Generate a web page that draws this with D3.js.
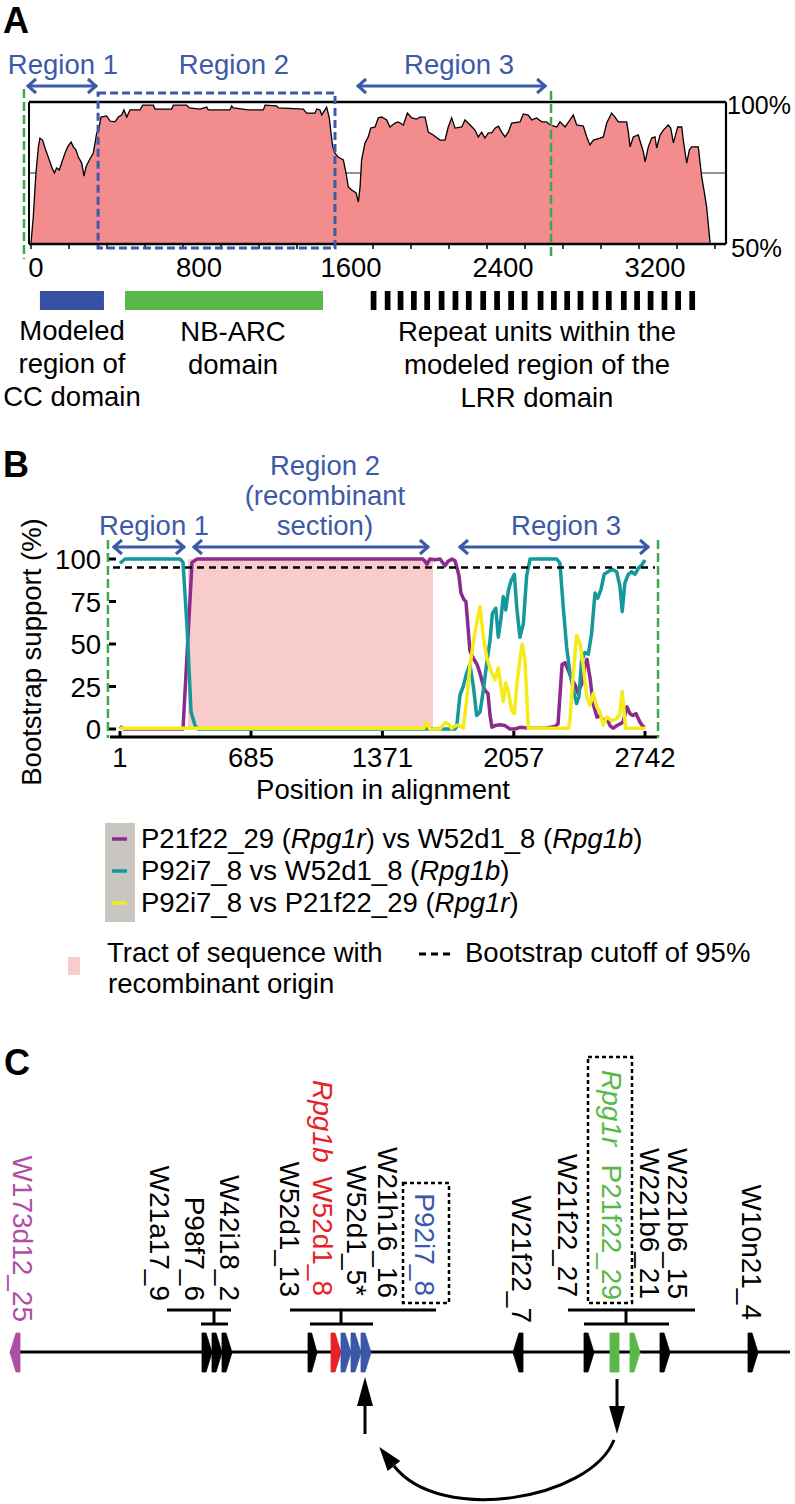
<!DOCTYPE html>
<html><head><meta charset="utf-8">
<script src="https://cdn.jsdelivr.net/npm/d3@7"></script>
<style>
body{margin:0;background:#fff}
svg{display:block}
text{font-family:"Liberation Sans",Arial,Helvetica,sans-serif;fill:#000}
</style>
</head><body>
<svg id="c" width="795" height="1504"></svg>
<script>
// ---------------- DATA ----------------
// Panel A: identity profile (alignment position, % identity)
const identityProfile = [[0,50.4],[12,59.5],[26,75],[39,84.2],[47,87.3],[61,86.6],[74,83.8],[91,80.6],[109,77.1],[123,75],[135,76.8],[149,76.1],[161,78.5],[179,82],[193,84.2],[211,85.9],[223,84.2],[237,83.1],[249,80.6],[267,78.5],[279,73.9],[289,77.1],[307,79.6],[328,82],[346,89.1],[356,90.1],[368,94.7],[398,95.1],[416,93.3],[442,93],[460,94.7],[477,95.4],[489,97.2],[504,94.7],[521,97.2],[574,97.2],[588,98.9],[644,98.9],[653,97.5],[740,97.5],[749,98.9],[819,98.9],[833,97.9],[889,97.5],[925,98.2],[933,97.2],[1047,97.2],[1056,98.6],[1065,97.9],[1144,97.2],[1223,97.2],[1232,98.9],[1293,98.6],[1302,97.9],[1433,97.5],[1451,96.1],[1495,96.1],[1504,97.5],[1521,97.2],[1530,95.4],[1547,97.2],[1556,98.2],[1570,94.4],[1579,89.1],[1588,84.2],[1600,82],[1617,80.6],[1644,79.6],[1658,75],[1670,70.1],[1688,69],[1711,68],[1723,64.8],[1732,70.1],[1740,79.6],[1758,85.6],[1775,87.7],[1788,90.8],[1811,91.2],[1828,94.4],[1846,94.7],[1872,93.7],[1889,91.2],[1916,92.6],[1933,93],[1960,91.9],[1981,96.1],[2004,94.4],[2030,94],[2047,94.7],[2074,94.7],[2091,89.4],[2117,88.4],[2153,86.6],[2179,86.6],[2196,91.2],[2214,94.4],[2232,90.8],[2267,91.2],[2284,93.7],[2311,91.9],[2337,90.1],[2354,87.7],[2372,89.4],[2389,87.3],[2407,89.1],[2425,89.1],[2442,90.8],[2460,91.5],[2477,89.4],[2495,87.7],[2512,89.4],[2530,92.6],[2574,93],[2591,95.8],[2617,95.4],[2635,93.7],[2661,94.4],[2688,93],[2714,93],[2732,91.9],[2767,91.2],[2784,93],[2811,91.2],[2837,93.7],[2854,95.4],[2872,91.9],[2907,91.5],[2925,87.7],[2942,84.9],[2960,86.6],[2995,87.3],[3012,87.7],[3030,92.6],[3056,96.1],[3074,94.7],[3091,93],[3135,93],[3144,89.4],[3153,84.2],[3170,87.7],[3196,88.4],[3223,82.4],[3232,78.9],[3249,84.2],[3267,87.3],[3284,87.7],[3293,83.8],[3311,88.4],[3328,90.1],[3354,91.9],[3367,90.8],[3381,85.6],[3404,91.2],[3425,91.2],[3433,86.6],[3451,78.5],[3465,83.1],[3477,84.2],[3512,84.2],[3530,73.6],[3542,69],[3556,63],[3574,50.4]];
const axisATicks = [0,200,400,600,800,1000,1200,1400,1600,1800,2000,2200,2400,2600,2800,3000,3200,3400,3600];
const axisALabels = [0,800,1600,2400,3200];
const regionsA = [
  {label:"Region 1", from:-21, to:347, center:168, arrow:true},
  {label:"Region 2", from:353, to:1600, center:1068, arrow:false},
  {label:"Region 3", from:1716, to:2711, center:2253, arrow:true}
];
const ccDomain = [47, 384];
const nbarcDomain = [495, 1537];
const lrrRepeats = [1788,1862,1930,2000,2070,2146,2219,2289,2365,2438,2512,2583,2667,2737,2807,2877,2956,3026,3105,3175,3246,3319,3391,3465];
const lrrRepeatWidth = 30;
const alignBoundsA = [-37, 2737];

// Panel B: bootscan (position in alignment, bootstrap %)
const bootPurple = [[1,1.5],[22,0],[330,0],[377,98],[403,100],[1583,100],[1604,97],[1619,100],[1646,99.5],[1672,100],[1698,96],[1713,98.5],[1734,100],[1750,99],[1760,95],[1771,90],[1781,80],[1797,76],[1807,75],[1818,60],[1828,46],[1844,42],[1865,38],[1880,33],[1901,24],[1912,22],[1922,21],[1933,8],[1943,1],[1959,2],[1985,2.5],[2011,2],[2037,0],[2063,0],[2089,1],[2142,0.5],[2220,0.5],[2272,1.5],[2288,3],[2309,38],[2324,39],[2340,35],[2361,29],[2377,26],[2392,21],[2413,27],[2429,38],[2439,41],[2455,30],[2471,15],[2491,7],[2507,8],[2523,5],[2544,6],[2559,2],[2575,0.5],[2596,2],[2611,3],[2627,4],[2648,13],[2664,9],[2679,8],[2695,9],[2716,4],[2731,1.5],[2742,1]];
const bootTeal = [[1,97.5],[27,100],[314,100],[330,98],[351,60],[372,10],[393,2],[408,0],[1750,0],[1759,1.4],[1776,20],[1793,25],[1811,33],[1828,38],[1846,25],[1863,8],[1881,10],[1898,23],[1916,39],[1933,52],[1945,68],[1963,71],[1976,54],[1990,65],[2002,78],[2015,70],[2028,81],[2042,87],[2060,91],[2072,72],[2089,54],[2107,62],[2124,90],[2142,100],[2281,100],[2298,97.5],[2315,72],[2333,48],[2350,33],[2368,23],[2385,15],[2397,19],[2411,40],[2428,45],[2446,44],[2463,56],[2481,80],[2495,77],[2512,82],[2529,91],[2550,92.5],[2571,94],[2594,92.5],[2611,84],[2623,69],[2637,86],[2655,91],[2672,92.5],[2690,91],[2707,94.5],[2725,96.5],[2742,99.4]];
const bootYellow = [[1,0.5],[1588,0.5],[1602,3.7],[1619,0],[1672,0],[1698,3.7],[1715,3],[1733,0.4],[1750,1.8],[1767,2.3],[1793,0.4],[1811,17],[1828,37],[1850,54],[1868,65],[1881,72],[1898,54],[1916,42],[1938,34],[1959,29],[1976,36],[1990,25],[2002,16],[2015,27],[2028,22],[2046,11],[2060,9],[2072,25],[2089,41],[2101,50],[2115,41],[2133,0.4],[2342,0.4],[2350,5],[2368,33],[2385,55],[2403,50],[2420,37],[2438,19],[2455,14],[2472,21],[2490,13],[2507,10],[2524,2.3],[2542,7],[2568,5],[2594,6],[2611,9],[2623,22],[2641,0.4],[2742,0.4]];
const bootTicksX = [1,685,1371,2057,2742];
const bootTicksY = [0,25,50,75,100];
const bootCutoff = 95;
const recombinantTract = [356, 1635];
const regionsB = [
  {label:["Region 1"], from:-36, to:340, center:179},
  {label:["Region 2","(recombinant","section)"], from:382, to:1614, center:1071},
  {label:["Region 3"], from:1771, to:2763, center:2330}
];
const alignBoundsB = [-62, 2810];

// Panel C: locus schematic (relative locus units)
const genes = [
  {s:0,e:10,dir:-1,kind:"outgroup"},
  {s:192,e:202,dir:1,kind:"other"},{s:202,e:212,dir:1,kind:"other"},{s:212,e:222,dir:1,kind:"other"},
  {s:298,e:307,dir:1,kind:"other"},
  {s:321,e:331,dir:1,kind:"rpg1b"},
  {s:331,e:341,dir:1,kind:"p92"},{s:341,e:351,dir:1,kind:"p92"},{s:351,e:361,dir:1,kind:"p92"},
  {s:503,e:513,dir:-1,kind:"other"},
  {s:574,e:584,dir:1,kind:"other"},
  {s:600,e:609,dir:0,kind:"rpg1r"},
  {s:620,e:630,dir:1,kind:"rpg1r"},
  {s:650,e:660,dir:1,kind:"other"},
  {s:738,e:748,dir:1,kind:"other"}
];
const geneLabels = [
  {t:"W173d12_25",u:3,end:1322,kind:"outgroup"},
  {t:"W21a17_9",u:140,end:1301,kind:"other"},
  {t:"P98f7_6",u:175,end:1301,kind:"other"},
  {t:"W42i18_2",u:210,end:1301,kind:"other"},
  {t:"W52d1_13",u:270,end:1297,kind:"other"},
  {t:"W52d1_8",u:303,end:1296,kind:"rpg1b"},
  {t:"W52d1_5*",u:337,end:1296,kind:"other"},
  {t:"W21h16_16",u:368,end:1298,kind:"other"},
  {t:"P92i7_8",u:405,end:1296,kind:"p92"},
  {t:"W21f22_7",u:502,end:1323,kind:"other"},
  {t:"W21f22_27",u:548,end:1297,kind:"other"},
  {t:"P21f22_29",u:592,end:1300,kind:"rpg1r"},
  {t:"W221b6_21",u:630,end:1299,kind:"other"},
  {t:"W221b6_15",u:658,end:1299,kind:"other"},
  {t:"W10n21_4",u:732,end:1320,kind:"other"}
];
const geneNames = [
  {t:"Rpg1b",u:303,start:1080,kind:"rpg1b"},
  {t:"Rpg1r",u:592,start:1070,kind:"rpg1r"}
];
const clusters = [
  {top:[157,221],stem:204,low:[191,218]},
  {top:[280,426],stem:331,low:[300,363]},
  {top:[558,685],stem:616,low:[574,659]}
];
const boxedGenes = [[393,439,1183],[578,622,1057]];
const transferArrows = {up:355, down:607};

// ---------------- STYLE ----------------
const BLUE = "#3c5aa8", GREEN = "#3ea64b", PINKFILL = "#f38c8c";
const C_PURPLE = "#8c2b8e", C_TEAL = "#14999a", C_YELLOW = "#f5ea1a";
const kindColor = {outgroup:"#b04ea6", other:"#000", rpg1b:"#e62129", p92:"#3b57a7", rpg1r:"#59b847"};
const FS = 27.5;

const svg = d3.select("#c");

function dblArrow(g, x1, x2, y, color){
  g.append("line").attr("x1",x1).attr("x2",x2).attr("y1",y).attr("y2",y)
    .attr("stroke",color).attr("stroke-width",3);
  g.append("path").attr("d",`M${x1+9},${y-7}L${x1+1},${y}L${x1+9},${y+7}`)
    .attr("fill","none").attr("stroke",color).attr("stroke-width",3);
  g.append("path").attr("d",`M${x2-9},${y-7}L${x2-1},${y}L${x2-9},${y+7}`)
    .attr("fill","none").attr("stroke",color).attr("stroke-width",3);
}

// ================= PANEL A =================
const gA = svg.append("g");
gA.append("text").attr("x",3).attr("y",33).attr("font-size",36).attr("font-weight","bold").text("A");
const xA = d3.scaleLinear().domain([0,3600]).range([31,715]);
const yA = d3.scaleLinear().domain([50,100]).range([244,102]);
const frameL = xA(0)-2, frameR = xA(3600)+11;

gA.append("line").attr("x1",frameL).attr("x2",frameR).attr("y1",yA(75)).attr("y2",yA(75))
  .attr("stroke","#222").attr("stroke-width",1.2);
gA.append("path").datum(identityProfile)
  .attr("d", d3.area().x(d=>xA(d[0])).y0(yA(50)).y1(d=>yA(d[1])))
  .attr("fill",PINKFILL);
gA.append("path").datum(identityProfile)
  .attr("d", d3.line().x(d=>xA(d[0])).y(d=>yA(d[1])))
  .attr("fill","none").attr("stroke","#000").attr("stroke-width",1.3);
gA.append("line").attr("x1",frameL).attr("x2",frameR).attr("y1",yA(100)).attr("y2",yA(100)).attr("stroke","#000").attr("stroke-width",2.5);
gA.append("line").attr("x1",frameL).attr("x2",frameL).attr("y1",yA(100)).attr("y2",yA(50)).attr("stroke","#000").attr("stroke-width",2);
gA.append("line").attr("x1",frameR).attr("x2",frameR).attr("y1",yA(100)).attr("y2",yA(50)).attr("stroke","#000").attr("stroke-width",2.2);
gA.append("line").attr("x1",frameL).attr("x2",frameR).attr("y1",yA(50)).attr("y2",yA(50)).attr("stroke","#000").attr("stroke-width",2.5);
gA.selectAll(".tk").data(axisATicks).enter().append("line")
  .attr("x1",d=>xA(d)).attr("x2",d=>xA(d)).attr("y1",yA(50)).attr("y2",yA(50)+5)
  .attr("stroke","#000").attr("stroke-width",1.5);
gA.selectAll(".tl").data(axisALabels).enter().append("text")
  .attr("x",d=>xA(d)+(d===0?5:16)).attr("y",277).attr("text-anchor","middle").attr("font-size",FS)
  .text(d=>d);
gA.append("text").attr("x",frameR+1).attr("y",114).attr("font-size",25).text("100%");
gA.append("text").attr("x",frameR+5).attr("y",257).attr("font-size",25.5).text("50%");

const r2 = regionsA[1];
gA.append("rect").attr("x",xA(r2.from)).attr("y",93).attr("width",xA(r2.to)-xA(r2.from)).attr("height",155)
  .attr("fill","none").attr("stroke",BLUE).attr("stroke-width",3).attr("stroke-dasharray","8,4");
gA.append("line").attr("x1",xA(alignBoundsA[0])).attr("x2",xA(alignBoundsA[0])).attr("y1",89).attr("y2",259)
  .attr("stroke",GREEN).attr("stroke-width",2.5).attr("stroke-dasharray","9,4");
gA.append("line").attr("x1",xA(alignBoundsA[1])).attr("x2",xA(alignBoundsA[1])).attr("y1",91).attr("y2",260)
  .attr("stroke",GREEN).attr("stroke-width",2.5).attr("stroke-dasharray","9,4");
regionsA.forEach(r=>{
  gA.append("text").attr("x",xA(r.center)).attr("y",74).attr("text-anchor","middle")
    .attr("font-size",FS).style("fill",BLUE).text(r.label);
  if(r.arrow) dblArrow(gA, xA(r.from), xA(r.to), 86, BLUE);
});
gA.append("rect").attr("x",xA(ccDomain[0])).attr("y",291).attr("width",xA(ccDomain[1])-xA(ccDomain[0])).attr("height",19).attr("fill","#3650a2");
gA.append("rect").attr("x",xA(nbarcDomain[0])).attr("y",291).attr("width",xA(nbarcDomain[1])-xA(nbarcDomain[0])).attr("height",19).attr("fill","#5ab848");
gA.selectAll(".lrr").data(lrrRepeats).enter().append("rect")
  .attr("x",d=>xA(d)).attr("y",291).attr("width",d=>xA(d+lrrRepeatWidth)-xA(d)).attr("height",19).attr("fill","#000");
function multiline(g, lines, cx, y0, dy){
  lines.forEach((t,i)=>g.append("text").attr("x",cx).attr("y",y0+i*dy).attr("text-anchor","middle").attr("font-size",FS).text(t));
}
multiline(gA,["Modeled","region of","CC domain"],72,340,33);
multiline(gA,["NB-ARC","domain"],233,341,33);
multiline(gA,["Repeat units within the","modeled region of the","LRR domain"],537,341,33);

// ================= PANEL B =================
const gB = svg.append("g");
gB.append("text").attr("x",3).attr("y",477).attr("font-size",36).attr("font-weight","bold").text("B");
const xB = d3.scaleLinear().domain([1,2742]).range([120,645]);
const yB = d3.scaleLinear().domain([0,100]).range([729,559]);

gB.append("rect").attr("x",xB(recombinantTract[0])).attr("y",yB(100))
  .attr("width",xB(recombinantTract[1])-xB(recombinantTract[0])).attr("height",yB(0)-yB(100))
  .attr("fill","#f9cccc");
gB.append("line").attr("x1",110).attr("x2",657).attr("y1",737).attr("y2",737).attr("stroke","#000").attr("stroke-width",3);
gB.selectAll(".xt").data(bootTicksX).enter().append("line")
  .attr("x1",d=>xB(d)).attr("x2",d=>xB(d)).attr("y1",737).attr("y2",731).attr("stroke","#000").attr("stroke-width",3);
gB.selectAll(".xl").data(bootTicksX).enter().append("text")
  .attr("x",d=>xB(d)).attr("y",767).attr("text-anchor","middle").attr("font-size",FS).text(d=>d);
gB.selectAll(".yt").data(bootTicksY).enter().append("line")
  .attr("x1",109).attr("x2",116).attr("y1",d=>yB(d)).attr("y2",d=>yB(d)).attr("stroke","#000").attr("stroke-width",3);
gB.selectAll(".yl").data(bootTicksY).enter().append("text")
  .attr("x",101).attr("y",d=>yB(d)+10).attr("text-anchor","end").attr("font-size",FS).text(d=>d);
gB.append("text").attr("x",383).attr("y",799).attr("text-anchor","middle").attr("font-size",FS).text("Position in alignment");
gB.append("text").attr("transform","translate(41,652) rotate(-90)").attr("text-anchor","middle").attr("font-size",FS).text("Bootstrap support (%)");

const lineB = d3.line().x(d=>xB(d[0])).y(d=>yB(d[1]));
[[bootPurple,C_PURPLE],[bootTeal,C_TEAL],[bootYellow,C_YELLOW]].forEach(([s,c])=>{
  gB.append("path").datum(s).attr("d",lineB).attr("fill","none").attr("stroke",c)
    .attr("stroke-width",3.5).attr("stroke-linejoin","round");
});
gB.append("line").attr("x1",113).attr("x2",655).attr("y1",yB(bootCutoff)).attr("y2",yB(bootCutoff))
  .attr("stroke","#000").attr("stroke-width",2.5).attr("stroke-dasharray","7,5");
alignBoundsB.forEach(b=>{
  gB.append("line").attr("x1",xB(b)).attr("x2",xB(b)).attr("y1",540).attr("y2",738)
    .attr("stroke",GREEN).attr("stroke-width",2.5).attr("stroke-dasharray","9,4");
});
regionsB.forEach(r=>{
  const n = r.label.length;
  r.label.forEach((t,i)=>{
    gB.append("text").attr("x",xB(r.center)).attr("y",535-(n-1-i)*30).attr("text-anchor","middle")
      .attr("font-size",FS).style("fill",BLUE).text(t);
  });
  dblArrow(gB, xB(r.from), xB(r.to), 547, BLUE);
});
gB.append("rect").attr("x",105).attr("y",823).attr("width",30).attr("height",99).attr("fill","#c9c6c2");
const legendRows = [
  {c:C_PURPLE, parts:[["P21f22_29 (",0],["Rpg1r",1],[") vs W52d1_8 (",0],["Rpg1b",1],[")",0]]},
  {c:C_TEAL, parts:[["P92i7_8 vs W52d1_8 (",0],["Rpg1b",1],[")",0]]},
  {c:C_YELLOW, parts:[["P92i7_8 vs P21f22_29 (",0],["Rpg1r",1],[")",0]]}
];
const legY = [848, 880, 912];
legendRows.forEach((r,i)=>{
  gB.append("line").attr("x1",112).attr("x2",127).attr("y1",legY[i]-9).attr("y2",legY[i]-9)
    .attr("stroke",r.c).attr("stroke-width",3.5);
  const t = gB.append("text").attr("x",141).attr("y",legY[i]).attr("font-size",FS);
  r.parts.forEach(p=>t.append("tspan").style("font-style",p[1]?"italic":"normal").text(p[0]));
});
gB.append("rect").attr("x",68).attr("y",957).attr("width",12).attr("height",18).attr("fill","#f9cccc");
gB.append("text").attr("x",107).attr("y",962).attr("font-size",FS).text("Tract of sequence with");
gB.append("text").attr("x",108).attr("y",993).attr("font-size",FS).text("recombinant origin");
gB.append("line").attr("x1",419).attr("x2",454).attr("y1",954).attr("y2",954)
  .attr("stroke","#000").attr("stroke-width",3).attr("stroke-dasharray","7,5");
gB.append("text").attr("x",465).attr("y",962).attr("font-size",FS).text("Bootstrap cutoff of 95%");

// ================= PANEL C =================
const gC = svg.append("g");
gC.append("text").attr("x",4).attr("y",1075).attr("font-size",36).attr("font-weight","bold").text("C");
const xC = d3.scaleLinear().domain([0,780]).range([10,790]);
const yLine = 1352, gTop = 1333, gBot = 1372;

gC.append("line").attr("x1",xC(0)).attr("x2",xC(780)).attr("y1",yLine).attr("y2",yLine)
  .attr("stroke","#000").attr("stroke-width",3);
function genePath(d){
  const x0 = xC(d.s), x1 = xC(d.e), w = x1-x0, m = (gTop+gBot)/2;
  if(d.dir>0){ const k = x0 + w*0.4; return `M${x0},${gTop}L${k},${gTop}L${x1},${m}L${k},${gBot}L${x0},${gBot}Z`; }
  if(d.dir<0){ const k = x1 - w*0.4; return `M${x1},${gTop}L${k},${gTop}L${x0},${m}L${k},${gBot}L${x1},${gBot}Z`; }
  return `M${x0},${gTop}L${x1},${gTop}L${x1},${gBot}L${x0},${gBot}Z`;
}
gC.selectAll(".gene").data(genes).enter().append("path").attr("d",genePath)
  .attr("fill",d=>kindColor[d.kind]).attr("stroke",d=>kindColor[d.kind]).attr("stroke-width",0.8);
clusters.forEach(c=>{
  gC.append("line").attr("x1",xC(c.top[0])).attr("x2",xC(c.top[1])).attr("y1",1310).attr("y2",1310).attr("stroke","#000").attr("stroke-width",3);
  gC.append("line").attr("x1",xC(c.stem)).attr("x2",xC(c.stem)).attr("y1",1310).attr("y2",1324).attr("stroke","#000").attr("stroke-width",3);
  gC.append("line").attr("x1",xC(c.low[0])).attr("x2",xC(c.low[1])).attr("y1",1324).attr("y2",1324).attr("stroke","#000").attr("stroke-width",3);
});
boxedGenes.forEach(b=>{
  gC.append("rect").attr("x",xC(b[0])).attr("y",b[2]).attr("width",xC(b[1])-xC(b[0])).attr("height",1303-b[2])
    .attr("fill","#fff").attr("stroke","#000").attr("stroke-width",2.5).attr("stroke-dasharray","4,3");
});
geneLabels.forEach(l=>{
  gC.append("text").attr("transform",`translate(${xC(l.u)},${l.end}) rotate(90)`)
    .attr("text-anchor","end").attr("font-size",28).style("fill",kindColor[l.kind]).text(l.t);
});
geneNames.forEach(l=>{
  gC.append("text").attr("transform",`translate(${xC(l.u)},${l.start}) rotate(90)`)
    .attr("text-anchor","start").attr("font-size",28).style("font-style","italic")
    .style("fill",kindColor[l.kind]).text(l.t);
});
const xu = xC(transferArrows.up), xd = xC(transferArrows.down);
gC.append("line").attr("x1",xu).attr("x2",xu).attr("y1",1434).attr("y2",1400).attr("stroke","#000").attr("stroke-width",3);
gC.append("path").attr("d",`M${xu},1377L${xu-8},1406L${xu+8},1406Z`).attr("fill","#000");
gC.append("line").attr("x1",xd).attr("x2",xd).attr("y1",1379).attr("y2",1410).attr("stroke","#000").attr("stroke-width",3);
gC.append("path").attr("d",`M${xd},1434L${xd-8},1406L${xd+8},1406Z`).attr("fill","#000");
const p0=[xd-3,1440], c1=[xd-27,1500], c2=[xu+75,1525], p3=[xu+29,1466];
gC.append("path").attr("d",`M${p0}C${c1} ${c2} ${p3}`).attr("fill","none").attr("stroke","#000").attr("stroke-width",3);
{
  const dx=p3[0]-c2[0], dy=p3[1]-c2[1], L=Math.hypot(dx,dy), ux=dx/L, uy=dy/L;
  const tip=[p3[0]+ux*24, p3[1]+uy*24], nx=-uy, ny=ux;
  gC.append("path").attr("d",`M${tip}L${p3[0]+nx*8},${p3[1]+ny*8}L${p3[0]-nx*8},${p3[1]-ny*8}Z`).attr("fill","#000");
}
</script>
</body></html>
